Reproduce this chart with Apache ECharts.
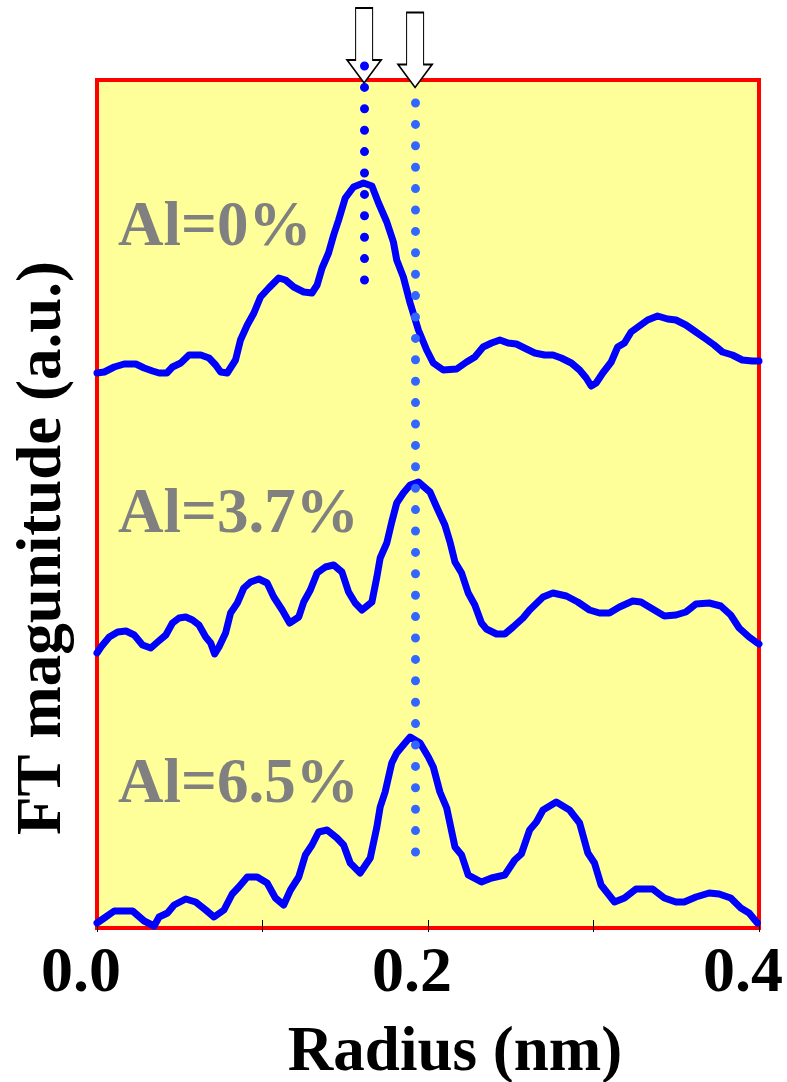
<!DOCTYPE html>
<html><head><meta charset="utf-8">
<script src="https://cdn.jsdelivr.net/npm/echarts@6/dist/echarts.min.js"></script>
<style>html,body{margin:0;padding:0;background:#fff}#c{width:787px;height:1082px}</style>
</head><body><div id="c"></div>
<script>
// ---- data (radius in nm, FT magnitude in arbitrary units, curves stacked) ----
const radius0 = [0.000,0.0044,0.0104,0.0164,0.0235,0.0285,0.0336,0.0375,0.0422,0.0456,0.0506,0.0556,0.0627,0.0677,0.0717,0.0747,0.0787,0.0837,0.0867,0.0908,0.0948,0.0988,0.1038,0.1098,0.1139,0.1189,0.1249,0.1299,0.1330,0.1360,0.1399,0.1430,0.1460,0.1500,0.1550,0.1610,0.1661,0.1701,0.1751,0.1791,0.1811,0.1851,0.1892,0.1942,0.1992,0.2032,0.2092,0.2173,0.2233,0.2283,0.2333,0.2384,0.2434,0.2484,0.2534,0.2595,0.2645,0.2705,0.2755,0.2805,0.2866,0.2916,0.2956,0.2986,0.3016,0.3056,0.3107,0.3146,0.3187,0.3227,0.3277,0.3327,0.3387,0.3448,0.3498,0.3558,0.3619,0.3679,0.3729,0.3779,0.3839,0.3899,0.3960,0.4000];
const ftAl0 = [555,556,561,564,564,560,557,555,555,561,565,573,573,570,563,556,555,568,588,603,615,631,640,650,648,641,636,635,643,660,675,693,708,730,741,745,742,725,706,686,668,651,625,598,578,565,558,559,566,571,581,585,588,585,584,579,575,573,573,570,565,558,550,542,545,555,566,581,585,596,602,608,612,609,608,603,596,589,583,576,573,568,567,567];

const radius37 = [0.000,0.0024,0.0074,0.0125,0.0175,0.0225,0.0275,0.0325,0.0366,0.0416,0.0456,0.0496,0.0536,0.0577,0.0616,0.0657,0.0687,0.0711,0.0737,0.0777,0.0807,0.0848,0.0887,0.0928,0.0978,0.1028,0.1068,0.1119,0.1164,0.1219,0.1249,0.1289,0.1330,0.1380,0.1430,0.1480,0.1520,0.1560,0.1601,0.1661,0.1691,0.1711,0.1751,0.1781,0.1811,0.1851,0.1892,0.1942,0.2012,0.2052,0.2102,0.2133,0.2163,0.2203,0.2243,0.2283,0.2323,0.2353,0.2414,0.2464,0.2514,0.2574,0.2614,0.2695,0.2755,0.2836,0.2905,0.2976,0.3036,0.3096,0.3157,0.3237,0.3287,0.3337,0.3428,0.3498,0.3558,0.3619,0.3699,0.3769,0.3829,0.3880,0.3940,0.3990,0.4000];
const ftAl37 = [275,281,291,296,297,293,283,280,286,293,305,310,311,308,303,291,285,274,281,295,315,325,340,346,349,345,331,318,305,311,326,338,355,361,363,356,336,325,318,326,351,370,385,406,425,435,443,446,436,421,403,386,366,355,335,323,305,299,294,294,301,310,318,331,335,332,326,318,315,315,321,327,326,321,312,313,316,324,325,322,313,300,291,285,284];

const radius65 = [0.000,0.0044,0.0104,0.0215,0.0285,0.0345,0.0375,0.0426,0.0466,0.0536,0.0596,0.0657,0.0707,0.0767,0.0817,0.0857,0.0908,0.0968,0.1028,0.1078,0.1128,0.1169,0.1219,0.1259,0.1299,0.1339,0.1390,0.1450,0.1490,0.1530,0.1590,0.1651,0.1691,0.1711,0.1741,0.1781,0.1811,0.1861,0.1892,0.1952,0.2002,0.2032,0.2072,0.2113,0.2163,0.2203,0.2243,0.2323,0.2384,0.2464,0.2524,0.2564,0.2614,0.2655,0.2695,0.2775,0.2855,0.2916,0.2966,0.3006,0.3046,0.3127,0.3187,0.3257,0.3357,0.3428,0.3498,0.3548,0.3619,0.3699,0.3759,0.3829,0.3890,0.3940,0.3990];
const ftAl65 = [5,10,17,17,7,2,11,15,23,29,26,18,11,18,34,41,51,51,45,30,23,38,51,73,83,96,98,90,83,65,55,70,101,121,136,165,175,185,191,185,171,161,136,120,81,73,53,46,50,53,68,74,98,106,118,126,118,105,75,65,43,26,30,39,39,30,26,26,31,35,34,30,20,15,5];

const curveLabels = ['Al=0%', 'Al=3.7%', 'Al=6.5%'];
const xTickValues = [0.0, 0.1, 0.2, 0.3, 0.4];
// guide lines: radius position, [top, bottom] extent in a.u.
const peakRadius = [0.1614, 0.1922];
const guideExtent = [[862, 628], [825, 76]];
const arrowTipLevel = [882.5, 878];

// ---- build ----
function zip(xs, ys) {
  const n = Math.min(xs.length, ys.length);
  const out = [];
  for (let i = 0; i < n; i++) out.push([xs[i], ys[i]]);
  return out;
}
const serif = '"Liberation Serif","Times New Roman",serif';
const curveStyle = { color: '#0000ff', width: 7, join: 'round', cap: 'round' };
const arrowPath = 'path://M-8.5,0 L8.5,0 L8.5,52 L17,52 L0,75 L-17,52 L-8.5,52 Z';

const chart = echarts.init(document.getElementById('c'), null, { renderer: 'canvas' });
const option = {
  animation: false,
  backgroundColor: '#ffffff',
  grid: [
    { left: 97, top: 80, width: 662, height: 848, show: true, backgroundColor: '#ffff99', borderColor: '#ff0000', borderWidth: 4 },
    { left: 97, top: 0, width: 662, height: 928, show: false }
  ],
  xAxis: [
    {
      gridIndex: 0, type: 'value', min: 0, max: 0.4, interval: 0.1,
      axisLine: { show: false },
      axisTick: { show: true, inside: true, length: 8, lineStyle: { color: '#000', width: 1 } },
      splitLine: { show: false },
      axisLabel: {
        show: true, margin: 14, color: '#000', fontFamily: serif, fontWeight: 'bold', fontSize: 64,
        padding: [0, 32, 0, 0],
        formatter: function (v) {
          const keep = xTickValues.filter(function (t, i) { return i % 2 === 0; });
          return keep.some(function (t) { return Math.abs(t - v) < 1e-9; }) ? v.toFixed(1) : '';
        }
      }
    },
    {
      gridIndex: 1, type: 'value', min: 0, max: 0.4, interval: 0.1,
      axisLine: { show: false },
      axisTick: { show: true, inside: false, length: 4, lineStyle: { color: '#000', width: 1 } },
      splitLine: { show: false }, axisLabel: { show: false }
    }
  ],
  yAxis: [
    { gridIndex: 0, type: 'value', min: 0, max: 848, show: false, splitLine: { show: false } },
    { gridIndex: 1, type: 'value', min: 0, max: 928, show: false, splitLine: { show: false } }
  ],
  series: [
    { type: 'line', xAxisIndex: 0, yAxisIndex: 0, data: zip(radius0, ftAl0), showSymbol: false, clip: false, lineStyle: curveStyle, z: 3 },
    { type: 'line', xAxisIndex: 0, yAxisIndex: 0, data: zip(radius37, ftAl37), showSymbol: false, clip: false, lineStyle: curveStyle, z: 3 },
    { type: 'line', xAxisIndex: 0, yAxisIndex: 0, data: zip(radius65, ftAl65), showSymbol: false, clip: false, lineStyle: curveStyle, z: 3 },
    {
      type: 'line', xAxisIndex: 1, yAxisIndex: 1, data: [], clip: false, z: 5, silent: true,
      markPoint: {
        silent: true, z: 5, symbol: arrowPath, symbolSize: [34, 75], label: { show: false }, animation: false,
        itemStyle: { color: '#ffffff', borderColor: '#000000', borderWidth: 1.5 },
        data: [
          { coord: [peakRadius[0], arrowTipLevel[0]] },
          { coord: [peakRadius[1], arrowTipLevel[1]] }
        ]
      }
    },
    {
      type: 'line', xAxisIndex: 1, yAxisIndex: 1, data: [], clip: false, z: 8, silent: true,
      markLine: {
        silent: true, z: 8, symbol: ['none', 'none'], label: { show: false }, animation: false,
        data: [
          [{ coord: [peakRadius[0], guideExtent[0][0]], lineStyle: { color: '#0000ff', width: 9, type: [0, 21.4], cap: 'round' } },
           { coord: [peakRadius[0], guideExtent[0][1]] }],
          [{ coord: [peakRadius[1], guideExtent[1][0]], lineStyle: { color: '#3366ff', width: 9, type: [0, 21.4], cap: 'round' } },
           { coord: [peakRadius[1], guideExtent[1][1]] }]
        ]
      }
    }
  ],
  graphic: [
    { type: 'text', x: 118, y: 229, z: 10, style: { text: curveLabels[0], align: 'left', verticalAlign: 'middle', font: 'bold 63px ' + serif, fill: '#808080' } },
    { type: 'text', x: 118, y: 516, z: 10, style: { text: curveLabels[1], align: 'left', verticalAlign: 'middle', font: 'bold 63px ' + serif, fill: '#808080' } },
    { type: 'text', x: 118, y: 786, z: 10, style: { text: curveLabels[2], align: 'left', verticalAlign: 'middle', font: 'bold 63px ' + serif, fill: '#808080' } },
    { type: 'text', x: 44, y: 548, rotation: Math.PI / 2, z: 10, style: { text: 'FT magunitude (a.u.)', x: 0, y: 0, align: 'center', verticalAlign: 'middle', font: 'bold 63px ' + serif, fill: '#000' } },
    { type: 'text', x: 455, y: 1054, z: 10, style: { text: 'Radius (nm)', x: 0, y: 0, align: 'center', verticalAlign: 'middle', font: 'bold 63px ' + serif, fill: '#000' } }
  ]
};
chart.setOption(option);
</script>
</body></html>
